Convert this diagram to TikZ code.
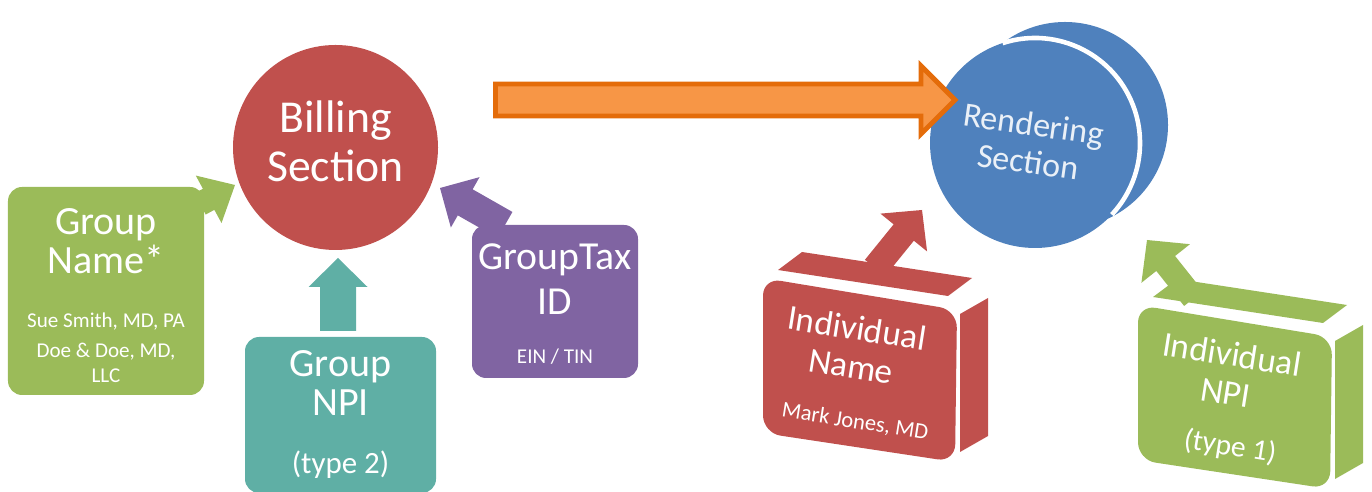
\documentclass[tikz,border=0pt]{standalone}
\usepackage{fontspec}
\setmainfont{Carlito}
\usepackage{tikz}
\usetikzlibrary{calc}

\definecolor{billred}{HTML}{C0504D}
\definecolor{leafgreen}{HTML}{9BBB59}
\definecolor{npiteal}{HTML}{5FAFA5}
\definecolor{taxpurple}{HTML}{8064A2}
\definecolor{flowfill}{HTML}{F79646}
\definecolor{flowline}{HTML}{E46C0A}
\definecolor{rendblue}{HTML}{4F81BD}

% block arrow: #1 style, #2 tail, #3 tip, #4 half shaft, #5 half head, #6 head length
\newcommand{\blockarrow}[6]{%
  \coordinate (bahead) at ($(#3)!#6!(#2)$);
  \path[#1] ($(#2)!#4!90:(#3)$) -- ($(bahead)!#4!90:(#3)$)
    -- ($(bahead)!#5!90:(#3)$) -- (#3)
    -- ($(bahead)!#5!-90:(#3)$) -- ($(bahead)!#4!-90:(#3)$)
    -- ($(#2)!#4!-90:(#3)$) -- cycle;}

% tilted 3d box, front top-left corner at the origin
\newcommand{\idbox}[1]{%
  \fill[#1] (0.15,0.08) -- (0.39,0.26) -- (2.09,0) -- (1.85,-0.18) -- cycle;
  \fill[#1, rounded corners=5pt] (0,0) -- (1.94,-0.32) -- (1.92,-1.84) -- (0,-1.55) -- cycle;
  \fill[#1] (1.97,-0.36) -- (2.25,-0.20) -- (2.25,-1.58) -- (1.97,-1.74) -- cycle;}

\tikzset{
  disc/.style={circle, inner sep=0pt, text=white, align=center},
  card/.style={rectangle, rounded corners=4pt, inner sep=0pt},
  title/.style={text=white, align=center, font=\fontsize{11.4}{11}\selectfont},
  note/.style={text=white, align=center, font=\fontsize{6}{7.1}\selectfont}
}

\begin{document}
\begin{tikzpicture}
    \useasboundingbox (0,0) rectangle (13.72,-4.92);

    % Billing side
    \node[disc, fill=billred, minimum size=2.05cm] (billing) at (3.355,-1.475) {};
    \node[title, font=\fontsize{13}{13.8}\selectfont] (billingtxt) at ($(billing)+(0,0.06)$) {Billing\\Section};

    \coordinate (nametail) at (2.00,-2.04);
    \coordinate (nametip) at (2.35,-1.85);
    \blockarrow{fill=leafgreen}{nametail}{nametip}{0.12cm}{0.27cm}{0.30cm}
    \node[card, fill=leafgreen, minimum width=1.96cm, minimum height=2.08cm] (grpname) at (1.06,-2.91) {};
    \node[title] (grpnametxt) at (1.06,-2.41) {Group\\Name*};
    \node[note] (grpnamesub) at (1.06,-3.475) {Sue Smith, MD, PA\\[1.4pt]Doe \& Doe, MD,\\LLC};

    \coordinate (npitail) at (3.38,-3.31);
    \coordinate (npitip) at (3.38,-2.58);
    \blockarrow{fill=npiteal}{npitail}{npitip}{0.18cm}{0.295cm}{0.29cm}
    \node[card, fill=npiteal, minimum width=1.91cm, minimum height=1.56cm] (grpnpi) at (3.405,-4.15) {};
    \node[title] (grpnpitxt) at (3.405,-3.83) {Group\\NPI};
    \node[note, font=\fontsize{8.8}{10}\selectfont] (grpnpisub) at (3.405,-4.65) {(type 2)};

    \coordinate (taxtail) at (5.05,-2.25);
    \coordinate (taxtip) at (4.40,-1.88);
    \blockarrow{fill=taxpurple}{taxtail}{taxtip}{0.15cm}{0.29cm}{0.29cm}
    \node[card, fill=taxpurple, minimum width=1.66cm, minimum height=1.53cm] (grptax) at (5.55,-3.015) {};
    \node[title, font=\fontsize{11.3}{12.8}\selectfont] (grptaxtxt) at (5.55,-2.795) {GroupTax\\ID};
    \node[note] (grptaxsub) at (5.55,-3.57) {EIN / TIN};

    % Rendering side
    \fill[rendblue] (10.65,-1.25) circle (1.03);
    \node[disc, fill=rendblue, minimum size=2.1cm] (render) at (10.35,-1.43) {};
    \node[title, rotate=-8, text=white!88!rendblue, font=\fontsize{9.7}{10.8}\selectfont] (rendertxt) at (10.31,-1.43) {Rendering\\Section};
    \draw[white, line width=1.3pt] (render.center) ++(108:1.05) arc[start angle=108, end angle=-43, radius=1.05];

    \coordinate (flowstart) at (4.955,-1.00);
    \coordinate (flowend) at (9.55,-1.00);
    \blockarrow{fill=flowfill, draw=flowline, line width=1.4pt}{flowstart}{flowend}{0.16cm}{0.34cm}{0.34cm}

    % Individual name
    \begin{scope}[shift={(7.63,-2.78)}]
        \coordinate (indtail) at (1.12,0.10);
        \coordinate (indtip) at (1.59,0.68);
        \blockarrow{fill=billred}{indtail}{indtip}{0.13cm}{0.30cm}{0.29cm}
        \idbox{billred}
        \node[title, rotate=-9, font=\fontsize{10}{11}\selectfont] (indname) at (0.91,-0.69) {Individual\\Name};
        \node[note, rotate=-9, font=\fontsize{6.4}{7.6}\selectfont] (indnamesub) at (0.92,-1.44) {Mark Jones, MD};
    \end{scope}

    % Individual NPI
    \begin{scope}[shift={(11.38,-3.05)}]
        \coordinate (npi1tail) at (0.555,0.065);
        \coordinate (npi1tip) at (0.09,0.65);
        \blockarrow{fill=leafgreen}{npi1tail}{npi1tip}{0.12cm}{0.31cm}{0.30cm}
        \idbox{leafgreen}
        \node[title, rotate=-9, font=\fontsize{10}{11}\selectfont] (indnpi) at (0.91,-0.68) {Individual\\NPI};
        \node[note, rotate=-9, font=\fontsize{8.4}{10}\selectfont] (indnpisub) at (0.92,-1.42) {(type 1)};
    \end{scope}
\end{tikzpicture}
\end{document}
